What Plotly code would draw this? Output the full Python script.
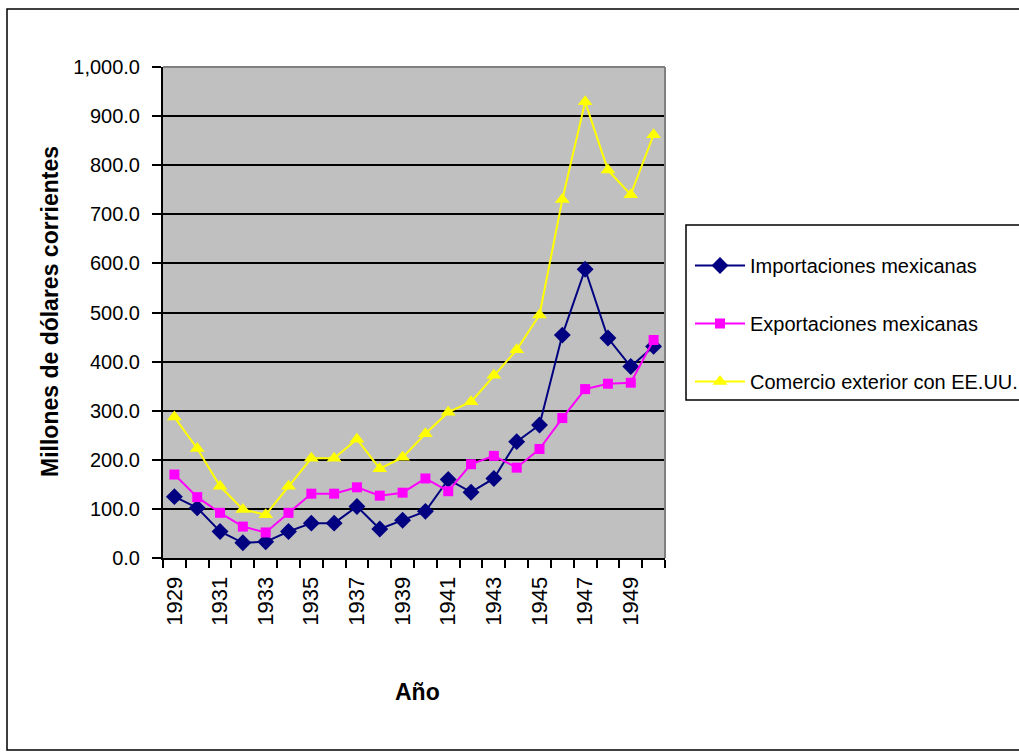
import plotly.graph_objects as go

years = list(range(1929, 1951))
importaciones = [125, 102, 54, 31, 33, 54, 71, 71, 105, 59, 77, 95,
                 160, 134, 162, 237, 271, 454, 588, 448, 390, 431]
exportaciones = [170, 124, 92, 64, 52, 92, 131, 131, 144, 127, 133, 162,
                 136, 191, 208, 184, 222, 285, 344, 355, 357, 444]
comercio = [287, 223, 146, 99, 88, 146, 203, 203, 242, 182, 205, 253,
            297, 318, 372, 424, 495, 730, 929, 790, 740, 862]
names = ["Importaciones mexicanas", "Exportaciones mexicanas", "Comercio exterior con EE.UU."]
tick_years = years[::2]

W, H = 1019, 752
L, R, T, B = 163, 665, 67, 558


def px(x):
    return (x - L) / (R - L)


def py(y):
    return (B - y) / (B - T)


FONT = "Liberation Sans, Arial, sans-serif"

fig = go.Figure()
fig.add_trace(go.Scatter(x=years, y=importaciones, name=names[0], mode="lines+markers",
                         line=dict(color="#000080", width=2),
                         marker=dict(symbol="diamond", size=13, color="#000080"),
                         legendgroup="a"))
fig.add_trace(go.Scatter(x=years, y=exportaciones, name=names[1], mode="lines+markers",
                         line=dict(color="#FF00FF", width=2),
                         marker=dict(symbol="square", size=10, color="#FF00FF"),
                         legendgroup="b"))
fig.add_trace(go.Scatter(x=years, y=comercio, name=names[2], mode="lines+markers",
                         line=dict(color="#FFFF00", width=2),
                         marker=dict(symbol="triangle-up", size=13, color="#FFFF00"),
                         legendgroup="c"))

boundaries = [y - 0.5 for y in years] + [years[-1] + 0.5]

fig.update_layout(
    width=W, height=H,
    margin=dict(l=L, r=W - R, t=T, b=H - B, pad=0),
    paper_bgcolor="white",
    plot_bgcolor="#C0C0C0",
    font=dict(family=FONT, size=20, color="black"),
    showlegend=True,
    legend=dict(xref="container", yref="container",
                x=690 / W, y=1 - 246 / H, xanchor="left", yanchor="top",
                bgcolor="rgba(0,0,0,0)", borderwidth=0,
                font=dict(family=FONT, size=20, color="black"),
                tracegroupgap=29, itemwidth=50),
    xaxis=dict(range=[years[0] - 0.5, years[-1] + 0.5],
               tickmode="array", tickvals=tick_years, ticktext=[str(y) for y in tick_years],
               tickangle=-90, ticks="", showgrid=False, zeroline=False,
               showline=True, linecolor="black", linewidth=2,
               tickfont=dict(family=FONT, size=22, color="black"),
               ticklabelstandoff=8,
               minor=dict(tickmode="array", tickvals=boundaries, ticks="outside",
                          ticklen=8, tickwidth=2, tickcolor="black", showgrid=False)),
    yaxis=dict(range=[0, 1000], tickmode="linear", tick0=0, dtick=100,
               tickformat=",.1f", ticks="outside", ticklen=9, tickwidth=2, tickcolor="black",
               showgrid=True, gridcolor="black", gridwidth=2, zeroline=False,
               showline=True, linecolor="black", linewidth=2,
               tickfont=dict(family=FONT, size=20, color="black"),
               ticklabelstandoff=8),
    annotations=[
        dict(text="<b>Millones de dólares corrientes</b>", xref="paper", yref="paper",
             x=px(50), y=py(312), textangle=-90, showarrow=False,
             font=dict(family=FONT, size=23, color="black"),
             xanchor="center", yanchor="middle"),
        dict(text="<b>Año</b>", xref="paper", yref="paper",
             x=px(417), y=py(692), showarrow=False,
             font=dict(family=FONT, size=23, color="black"),
             xanchor="center", yanchor="middle"),
    ],
    shapes=[
        dict(type="rect", xref="paper", yref="paper", x0=px(7), x1=px(1040),
             y0=py(750), y1=py(9), line=dict(color="black", width=1.5), layer="below"),
        dict(type="rect", xref="paper", yref="paper", x0=px(686), x1=px(1040),
             y0=py(400), y1=py(225), line=dict(color="black", width=1.5),
             fillcolor="white", layer="below"),
        dict(type="line", xref="paper", yref="paper", x0=0, x1=1, y0=1, y1=1,
             line=dict(color="#808080", width=2)),
        dict(type="line", xref="paper", yref="paper", x0=1, x1=1, y0=0, y1=1,
             line=dict(color="#808080", width=2)),
    ],
)

fig.write_html("out.html", config={"displayModeBar": False},
               post_script="document.body.style.margin='0px';document.body.style.overflow='hidden';")
